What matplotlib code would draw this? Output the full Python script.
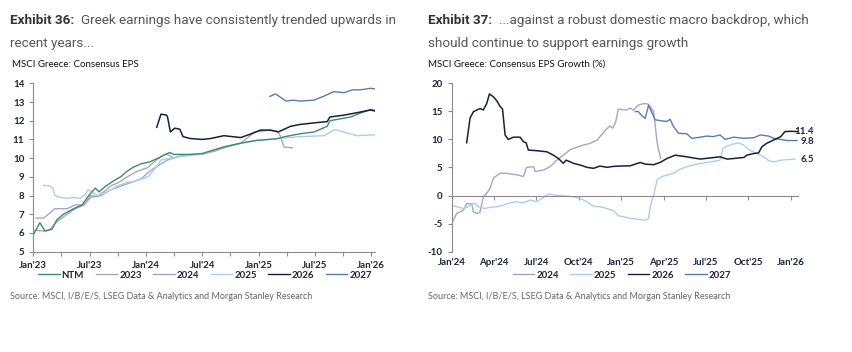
import matplotlib
matplotlib.use("Agg")
import matplotlib.pyplot as plt
from matplotlib.lines import Line2D

# ---- Exhibit 36 : MSCI Greece consensus EPS (x = months since Jan'23) ----
ntm_m = [0, 0.7, 1.25, 2, 2.5, 3.2, 4.3, 5.2, 5.9, 6.6, 7.0, 7.7, 8.6, 9.3, 10, 10.6, 11.5, 12.4,
         13.3, 14.5, 15, 16.7, 18.0, 20.3, 22.1, 23.8, 25.2, 26.1, 26.8, 28.4, 29.9, 31.3, 31.6,
         32.7, 33.8, 34.8, 35.9, 36.4]
ntm_v = [5.9, 6.55, 6.1, 6.2, 6.7, 7.0, 7.3, 7.5, 8.0, 8.4, 8.2, 8.5, 8.8, 9.0, 9.3, 9.5, 9.7, 9.8,
         10.0, 10.3, 10.2, 10.2, 10.25, 10.6, 10.8, 10.95, 11.0, 11.05, 11.15, 11.3, 11.4, 11.7, 12.0,
         12.1, 12.2, 12.4, 12.6, 12.55]
y23_m = [0.2, 1.1, 1.8, 2.5, 3.6, 4.5, 5.4, 6.1, 6.8, 7.5, 8.2, 9.1, 10, 11.1, 12.2, 13.1, 14.0, 14.3, 15]
y23_v = [6.15, 6.1, 6.2, 6.6, 7.0, 7.3, 7.5, 8.0, 7.95, 8.2, 8.5, 8.7, 9.0, 9.3, 9.5, 9.9, 10.2, 10.2, 10.0]
y24_m = [0.3, 1.1, 1.6, 2.3, 3.6, 4.5, 5.4, 6.1, 7.2, 8.2, 9.3, 10.4, 11.5, 12.4, 13.3, 14.3, 15.5,
         17, 18, 19.5, 20.3, 22.1, 23.6, 24.5, 25.3, 26.0, 26.3, 26.7, 27.6]
y24_v = [6.8, 6.8, 7.0, 7.3, 7.3, 7.5, 7.5, 7.9, 8.0, 8.3, 8.5, 8.7, 8.9, 9.3, 9.6, 9.9, 10.1,
         10.2, 10.2, 10.4, 10.55, 10.8, 11.4, 11.45, 11.5, 11.45, 11.2, 10.6, 10.55]
y25_m = [1.1, 1.8, 2.1, 2.3, 2.9, 3.6, 4.3, 5.0, 5.6, 5.8, 6.3, 6.8, 7.9, 8.9, 10.0, 11.1, 12.2, 12.9,
         13.6, 14.7, 15.8, 17.9, 20.3, 22.1, 23.9, 26.0, 28.5, 31.0, 32.0, 32.4, 33.5, 34.5, 36.4]
y25_v = [8.55, 8.5, 8.4, 8.0, 7.9, 7.85, 7.9, 7.85, 8.1, 8.3, 8.2, 8.0, 8.2, 8.5, 8.7, 8.8, 9.0, 9.4,
         9.9, 10.0, 10.1, 10.2, 10.6, 10.8, 10.95, 11.05, 11.15, 11.2, 11.5, 11.5, 11.33, 11.2, 11.25]
y26_m = [13.15, 13.6, 14.2, 14.3, 14.6, 15.05, 15.6, 15.95, 16.7, 18.0, 18.9, 20.3, 22.1, 23.2, 24.2,
         25.2, 26.1, 27.4, 28.4, 30.2, 31.3, 31.6, 33.1, 34.5, 35.9, 36.4]
y26_v = [11.65, 12.35, 12.3, 12.2, 11.4, 11.6, 11.55, 11.15, 11.05, 11.0, 11.05, 11.2, 11.1, 11.3, 11.5,
         11.5, 11.4, 11.7, 11.8, 11.9, 11.95, 12.2, 12.3, 12.43, 12.57, 12.52]
y27_m = [25.2, 25.8, 26.5, 26.9, 27.7, 28.4, 29.9, 30.9, 32.0, 33.1, 34.0, 34.8, 35.9, 36.4]
y27_v = [13.3, 13.43, 13.2, 13.05, 13.1, 13.05, 13.1, 13.3, 13.55, 13.5, 13.65, 13.65, 13.73, 13.7]
eps_ticks = [0, 6, 12, 18, 24, 30, 36]
eps_labels = ["Jan'23", "Jul'23", "Jan'24", "Jul'24", "Jan'25", "Jul'25", "Jan'26"]

# ---- Exhibit 37 : consensus EPS growth % (x = months since Jan'24) ----
g24_m = [0, 0.35, 0.83, 1.06, 1.42, 1.54, 1.77, 2.0, 2.24, 2.48, 2.72, 2.95, 3.43, 3.9, 4.6, 5.08,
         5.3, 5.8, 5.9, 6.5, 6.97, 7.44, 7.9, 8.4, 8.86, 9.33, 9.8, 10.3, 10.6, 10.9, 11.2, 11.4,
         11.6, 11.8, 12.4, 12.64, 12.87, 13.2, 13.6, 13.9, 14.3, 14.5, 14.6, 14.8]
g24_v = [-4.95, -3.2, -2.6, -1.4, -1.5, -2.9, -3.2, -3.0, -0.2, 0.4, 1.3, 3.1, 4.0, 3.95, 3.7, 3.4,
         5.0, 5.15, 4.3, 4.55, 5.15, 6.3, 7.2, 8.2, 8.6, 9.0, 9.3, 9.9, 10.8, 11.7, 12.4, 12.0,
         13.0, 15.4, 15.25, 15.6, 15.2, 16.1, 16.4, 16.3, 15.0, 10.5, 8.7, 6.6]
g25_m = [0, 0.35, 0.83, 1.18, 1.42, 1.65, 1.89, 2.36, 2.72, 3.19, 3.66, 4.13, 4.6, 5.08, 5.55, 6.02,
         6.5, 6.85, 7.2, 7.9, 8.6, 9.1, 9.57, 10.04, 10.5, 11.0, 11.46, 11.8, 12.2, 12.64, 13.1,
         13.7, 13.94, 14.06, 14.3, 14.55, 14.9, 15.24, 15.7, 16.06, 16.65, 17.1, 17.7, 18.3, 19.0,
         19.2, 19.5, 19.96, 20.3, 20.67, 21.1, 21.6, 22.1, 22.4, 22.8, 23.3, 23.75, 24.3]
g25_v = [-1.7, -2.0, -2.3, -2.0, -1.5, -1.4, -2.0, -2.3, -2.1, -2.0, -1.7, -1.3, -1.1, -1.3, -0.8, -1.1,
         -0.3, 0.27, 0.1, -0.05, -0.2, -0.5, -1.1, -1.9, -2.0, -2.3, -2.7, -3.6, -3.8, -4.06, -4.2,
         -4.4, -4.1, -2.0, 0.1, 2.8, 3.4, 3.65, 3.95, 4.55, 5.15, 5.45, 5.75, 6.0, 6.3,
         8.4, 8.8, 9.2, 9.4, 9.0, 8.1, 7.5, 6.9, 6.3, 6.0, 6.3, 6.4, 6.5]
g26_m = [1.06, 1.3, 1.54, 2.0, 2.24, 2.48, 2.67, 2.95, 3.19, 3.43, 3.6, 3.78, 4.0, 4.37, 4.84, 5.08,
         5.27, 5.43, 6.0, 6.73, 7.2, 7.56, 7.9, 8.1, 8.4, 8.62, 9.1, 9.57, 10.04, 10.5, 11.0, 11.46,
         11.93, 12.64, 13.35, 13.7, 14.3, 14.76, 15.24, 15.83, 16.65, 17.6, 18.3, 19.0, 19.5, 19.96,
         20.7, 20.9, 21.4, 21.73, 21.97, 22.3, 22.8, 23.3, 23.6, 24.0, 24.5]
g26_v = [9.4, 13.8, 14.95, 15.5, 15.25, 16.4, 18.1, 17.6, 16.9, 15.85, 15.4, 10.8, 10.0, 10.4, 10.4, 9.6,
         9.4, 8.1, 8.0, 7.8, 7.2, 6.6, 5.75, 6.3, 6.0, 5.74, 5.44, 5.03, 4.85, 5.26, 5.03, 5.2,
         5.26, 5.3, 5.9, 5.6, 5.5, 5.9, 6.6, 7.2, 6.9, 6.5, 6.7, 6.9, 6.5, 6.6,
         6.8, 7.2, 7.5, 7.6, 8.7, 9.3, 9.9, 10.5, 11.4, 11.45, 11.4]
g27_m = [13.0, 13.2, 13.47, 13.7, 13.94, 14.2, 14.4, 14.9, 15.24, 15.47, 15.7, 16.06, 16.65, 17.0,
         17.6, 18.07, 18.5, 19.0, 19.37, 19.96, 20.67, 21.4, 21.85, 22.44, 22.8, 23.3, 23.75, 24.45]
g27_v = [14.95, 15.0, 14.2, 13.75, 16.1, 14.65, 13.5, 13.3, 13.2, 13.6, 12.3, 11.1, 11.0, 10.2,
         10.4, 10.6, 10.5, 10.8, 10.0, 10.4, 10.2, 10.3, 10.8, 10.6, 10.2, 10.0, 9.8, 9.8]
gr_ticks = [0, 3, 6, 9, 12, 15, 18, 21, 24]
gr_labels = ["Jan'24", "Apr'24", "Jul'24", "Oct'24", "Jan'25", "Apr'25", "Jul'25", "Oct'25", "Jan'26"]

C_NTM = "#3d8c6c"
C23 = "#a9a9a9"
C24 = "#a9a2cc"
C25 = "#abcdf2"
C26 = "#15213f"
C27 = "#5a7bb2"
TXT = "#1c2438"
AX = "#8c8c8c"

plt.rcParams["font.family"] = ["Lato", "DejaVu Sans"]
plt.rcParams["axes.unicode_minus"] = False

fig = plt.figure(figsize=(8.52, 3.52), dpi=100)
W, H = 852, 352


def fx(px):
    return px / W


def fy(py):
    return 1 - py / H


def title(x, lines, bold):
    t = fig.text(fx(x), fy(24), bold, fontsize=9.7, fontweight="bold", color="#333333",
                 family=["Roboto", "DejaVu Sans"])
    ax0 = fig.axes[0]
    ax0.annotate(lines[0], xy=(1, 0), xycoords=t, xytext=(5, 0), textcoords="offset points",
                 fontsize=9.7, color="#555555", family=["Roboto", "DejaVu Sans"],
                 va="bottom", annotation_clip=False)
    fig.text(fx(x), fy(47), lines[1], fontsize=9.7, color="#555555",
             family=["Roboto", "DejaVu Sans"])


def style_axis(ax):
    for s in ["top", "right"]:
        ax.spines[s].set_visible(False)
    for s in ["left", "bottom"]:
        ax.spines[s].set_color(AX)
        ax.spines[s].set_linewidth(0.8)
    ax.tick_params(axis="both", colors=AX, length=3, width=0.8, labelcolor=TXT, labelsize=7)
    for lab in ax.get_yticklabels() + ax.get_xticklabels():
        lab.set_fontweight("bold")


# ---------------- left chart ----------------
ax1 = fig.add_axes([fx(33.3), fy(251.7), fx(375 - 33.3), (251.7 - 83.3) / H])
ax1.plot(y23_m, y23_v, color=C23, lw=1.0, label="2023")
ax1.plot(y24_m, y24_v, color=C24, lw=1.0, label="2024")
ax1.plot(y25_m, y25_v, color=C25, lw=1.0, label="2025")
ax1.plot(ntm_m, ntm_v, color=C_NTM, lw=1.0, label="NTM")
ax1.plot(y26_m, y26_v, color=C26, lw=1.1, label="2026")
ax1.plot(y27_m, y27_v, color=C27, lw=1.0, label="2027")
ax1.set_xlim(0, 36.4)
ax1.set_ylim(5, 14)
ax1.set_yticks(range(5, 15))
ax1.set_xticks(eps_ticks)
ax1.set_xticklabels(eps_labels)
ax1.set_xticks([3, 9, 15, 21, 27, 33], minor=True)
ax1.tick_params(axis="x", which="minor", length=3, width=0.8, colors=AX)
style_axis(ax1)
order1 = [("NTM", C_NTM), ("2023", C23), ("2024", C24), ("2025", C25), ("2026", C26), ("2027", C27)]
h1 = [Line2D([], [], color=c, lw=1.0) for _, c in order1]
leg1 = fig.legend(h1, [n for n, _ in order1], loc="center", bbox_to_anchor=(fx(205), fy(275)),
                  ncol=6, frameon=False, fontsize=7, handlelength=2.2, handletextpad=0.2,
                  columnspacing=1.2)
for t in leg1.get_texts():
    t.set_fontweight("bold")
    t.set_color(TXT)

fig.text(fx(12), fy(67), "MSCI Greece: Consensus EPS", fontsize=7, color="#111111")
fig.text(fx(10), fy(299), "Source: MSCI, I/B/E/S, LSEG Data & Analytics and Morgan Stanley Research",
         fontsize=6.5, color="#666666")

# ---------------- right chart ----------------
ax2 = fig.add_axes([fx(451.7), fy(251.7), fx(797.7 - 451.7), (251.7 - 83.3) / H])
ax2.plot(g24_m, g24_v, color=C24, lw=1.0)
ax2.plot(g25_m, g25_v, color=C25, lw=1.0)
ax2.plot(g27_m, g27_v, color=C27, lw=1.0)
ax2.plot(g26_m, g26_v, color=C26, lw=1.1)
ax2.set_xlim(0, 24.5)
ax2.set_ylim(-10, 20)
ax2.set_yticks(range(-10, 21, 5))
ax2.spines["bottom"].set_position(("data", 0))
ax2.set_xticks(gr_ticks)
ax2.set_xticklabels([])
style_axis(ax2)
for m, lab in zip(gr_ticks, gr_labels):
    ax2.text(m, -0.035, lab, transform=ax2.get_xaxis_transform(), ha="center", va="top",
             fontsize=7, fontweight="bold", color=TXT)
for val, yv in [(g26_v[-1], g26_v[-1]), (g27_v[-1], g27_v[-1] - 0.2), (g25_v[-1], g25_v[-1])]:
    ax2.annotate(f"{val:.1f}", xy=(24.5, yv), xycoords="data", xytext=(814, 0),
                 textcoords=("figure pixels", "offset points"), ha="right", va="center",
                 fontsize=7, fontweight="bold", color=TXT, annotation_clip=False)
order2 = [("2024", C24), ("2025", C25), ("2026", C26), ("2027", C27)]
h2 = [Line2D([], [], color=c, lw=1.0) for _, c in order2]
leg2 = fig.legend(h2, [n for n, _ in order2], loc="center", bbox_to_anchor=(fx(622), fy(275)),
                  ncol=4, frameon=False, fontsize=7, handlelength=2.2, handletextpad=0.2,
                  columnspacing=1.2)
for t in leg2.get_texts():
    t.set_fontweight("bold")
    t.set_color(TXT)

fig.text(fx(428), fy(67), "MSCI Greece: Consensus EPS Growth (%)", fontsize=7, color="#111111")
fig.text(fx(428), fy(299), "Source: MSCI, I/B/E/S, LSEG Data & Analytics and Morgan Stanley Research",
         fontsize=6.5, color="#666666")

title(10, ["Greek earnings have consistently trended upwards in", "recent years..."], "Exhibit 36:")
title(428, ["...against a robust domestic macro backdrop, which",
            "should continue to support earnings growth"], "Exhibit 37:")

fig.savefig("out.png", dpi=100)
